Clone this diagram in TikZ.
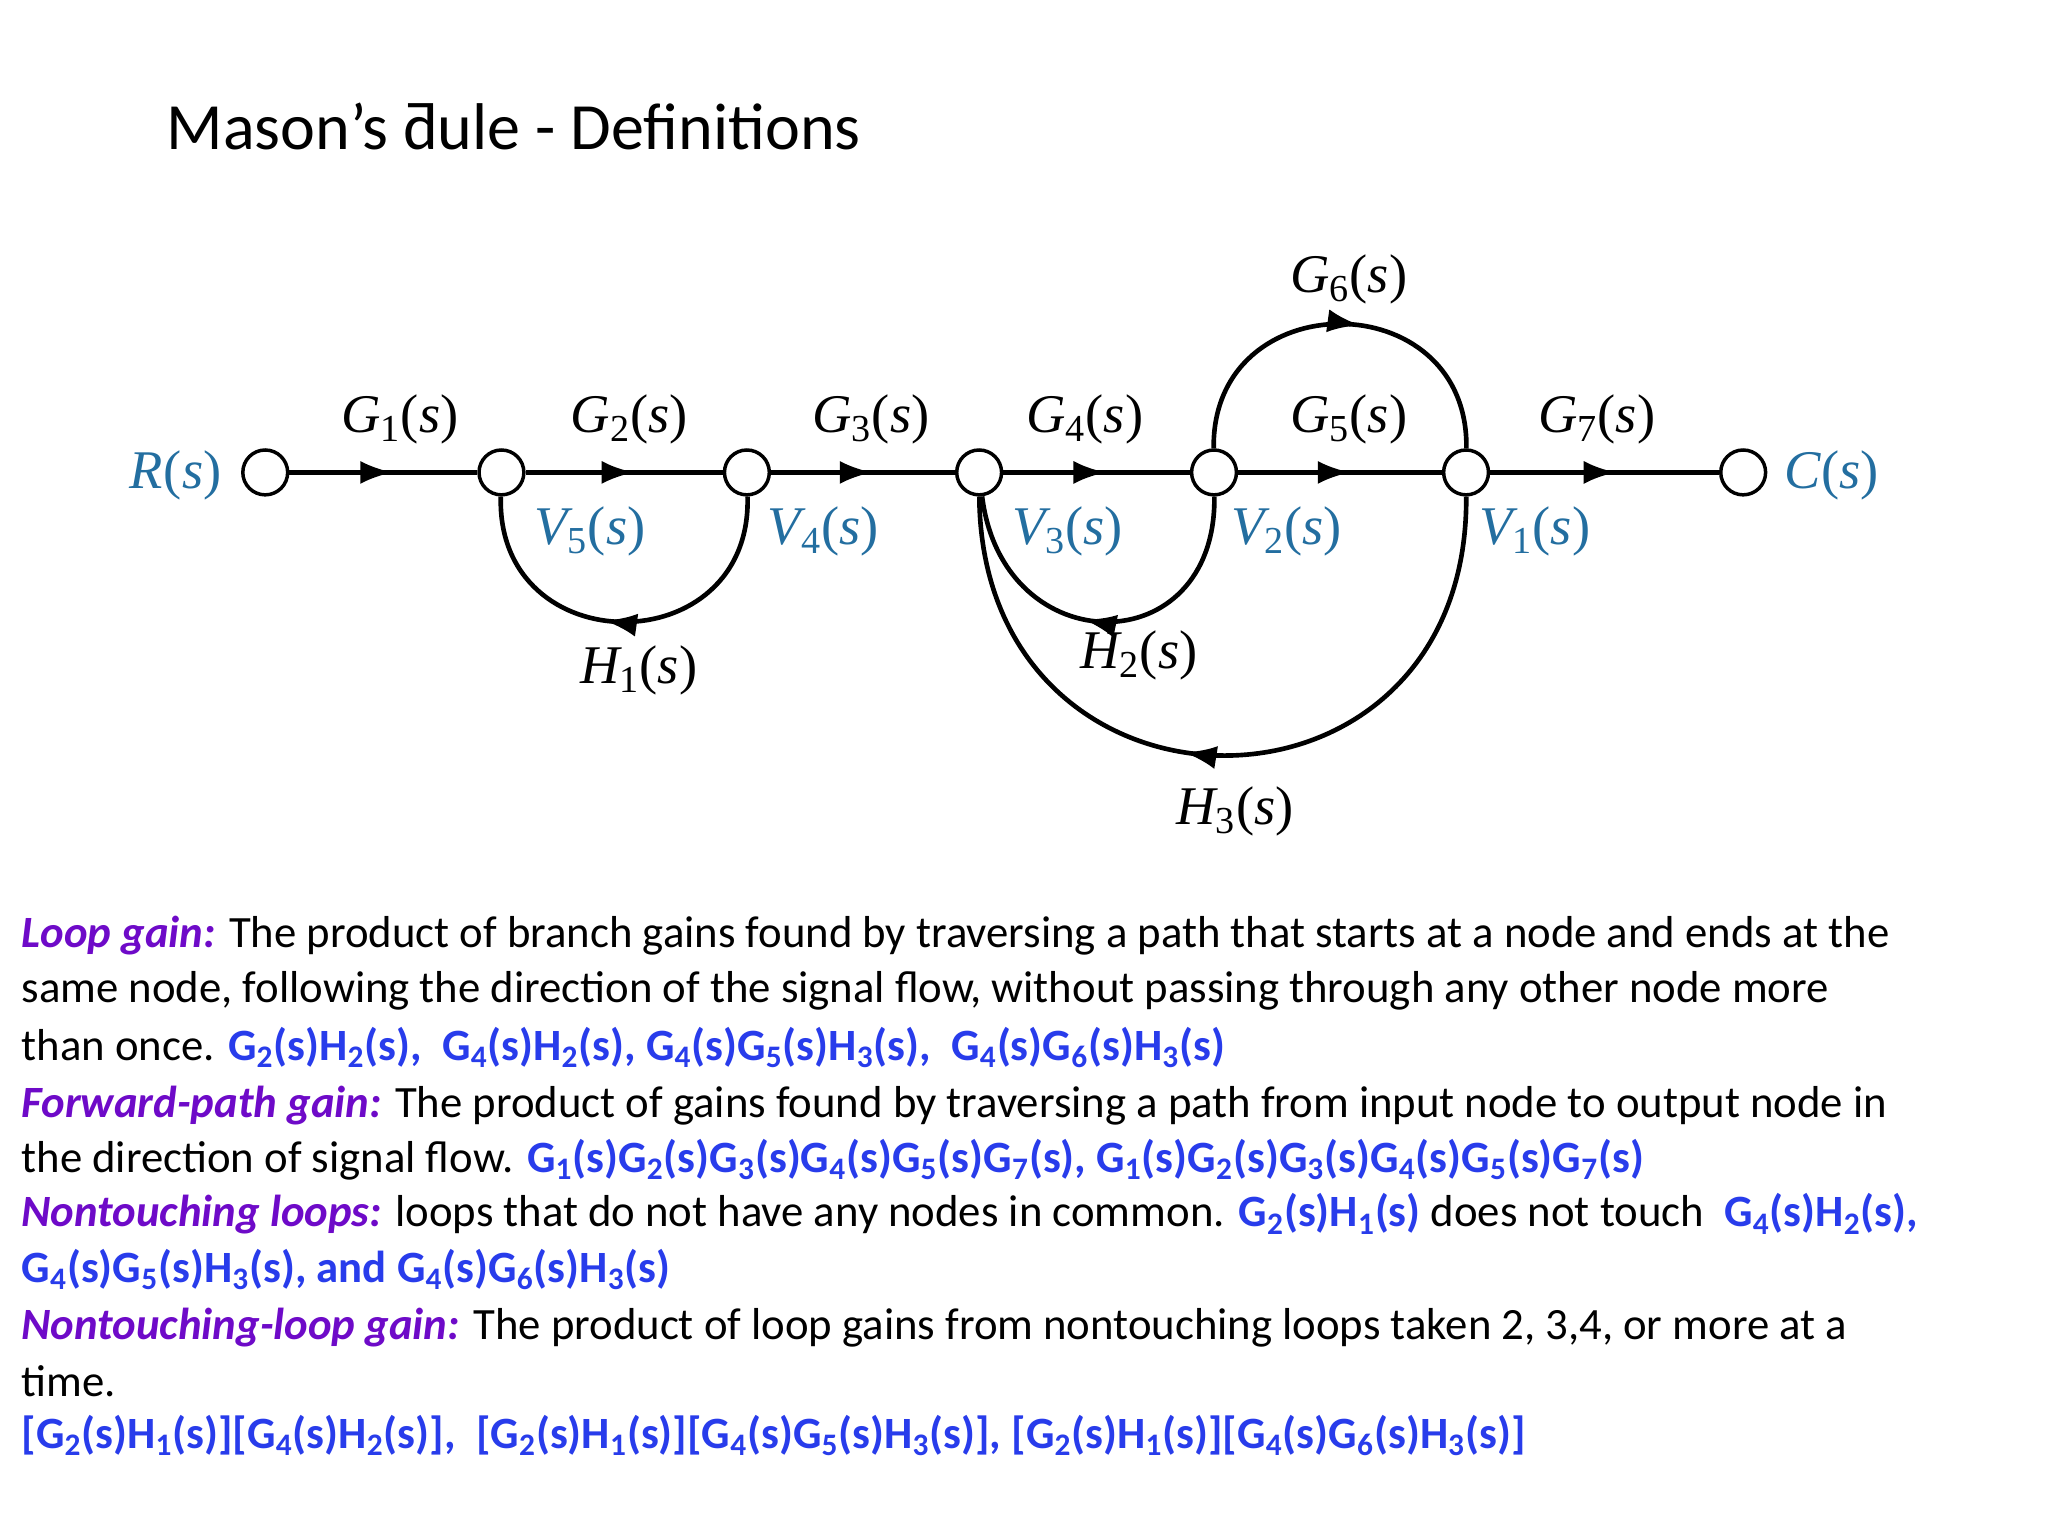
\documentclass[tikz,border=0pt]{standalone}
\usepackage{fontspec}
\setmainfont{Carlito}
\newfontfamily\mathlike{Liberation Serif}
\usetikzlibrary{arrows.meta,decorations.markings}
\definecolor{sigblue}{RGB}{35,110,160}
\definecolor{hpurple}{RGB}{110,10,200}
\definecolor{tblue}{RGB}{40,60,235}
\newcommand{\gs}[2]{#1\textsubscript{#2}(s)}
\newcommand{\lb}[2]{{\mathlike\itshape #1}\textsubscript{\mathlike #2}{\mathlike(\itshape s\upshape)}}
\newcommand{\hd}[1]{{\color{hpurple}\bfseries\itshape #1}}
\newcommand{\bb}[1]{{\color{tblue}\bfseries #1}}
\begin{document}
\begin{tikzpicture}[x=0.02cm,y=-0.02cm,
  sn/.style={circle,draw,line width=1.5pt,minimum size=0.68cm,inner sep=0pt,fill=white},
  br/.style={line width=2pt,postaction={decorate},decoration={markings,mark=at position 0.55 with {\arrow{Latex[length=14pt,width=10pt]}}}},
  gl/.style={font=\fontsize{23.5}{28}\selectfont},
  vl/.style={font=\fontsize{23.5}{28}\selectfont,text=sigblue},
  tl/.style={anchor=west,font=\fontsize{19.3}{24}\selectfont,inner sep=0pt}]
\useasboundingbox (0,0) rectangle (1552,1164);
\node[anchor=west,font=\fontsize{28.5}{34}\selectfont] (title) at (120,96) {Mason’s ƌule - Definitions};
% nodes
\node[sn] (R) at (201,358) {};
\node[sn] (n5) at (380,358) {};
\node[sn] (n4) at (566,358) {};
\node[sn] (n3) at (742,358) {};
\node[sn] (n2) at (920,358) {};
\node[sn] (n1) at (1111,358) {};
\node[sn] (C) at (1321,358) {};
\draw[br] (R) -- (n5);
\draw[br] (n5) -- (n4);
\draw[br] (n4) -- (n3);
\draw[br] (n3) -- (n2);
\draw[br] (n2) -- (n1);
\draw[br] (n1) -- (C);
\draw[br] (n4) .. controls (570,503) and (376,503) .. (n5);
\draw[br] (n2) .. controls (922,503) and (760,503) .. (n3);
\draw[br] (n1) .. controls (1113,638) and (744,638) .. (n3);
\draw[br] (n2) .. controls (918,214) and (1113,214) .. (n1);
% labels
\node[vl] (lR) at (133,360) {\lb{R}{}};
\node[vl] (lC) at (1388,360) {\lb{C}{}};
\node[gl] (g1) at (303,318) {\lb{G}{1}};
\node[gl] (g2) at (477,318) {\lb{G}{2}};
\node[gl] (g3) at (660,318) {\lb{G}{3}};
\node[gl] (g4) at (822,318) {\lb{G}{4}};
\node[gl] (g5) at (1022,318) {\lb{G}{5}};
\node[gl] (g6) at (1022,212) {\lb{G}{6}};
\node[gl] (g7) at (1210,318) {\lb{G}{7}};
\node[vl] (v5) at (447,403) {\lb{V}{5}};
\node[vl] (v4) at (624,403) {\lb{V}{4}};
\node[vl] (v3) at (809,403) {\lb{V}{3}};
\node[vl] (v2) at (975,403) {\lb{V}{2}};
\node[vl] (v1) at (1163,403) {\lb{V}{1}};
\node[gl] (h1) at (484,508) {\lb{H}{1}};
\node[gl] (h2) at (863,497) {\lb{H}{2}};
\node[gl] (h3) at (936,615) {\lb{H}{3}};
% text
\node[tl] (t1) at (16,709) {\hd{Loop gain:} The product of branch gains found by traversing a path that starts at a node and ends at the};
\node[tl] (t2) at (16,751) {same node, following the direction of the signal flow, without passing through any other node more};
\node[tl] (t3) at (16,794) {than once. \bb{\gs{G}{2}\gs{H}{2}, \ \gs{G}{4}\gs{H}{2}, \gs{G}{4}\gs{G}{5}\gs{H}{3}, \ \gs{G}{4}\gs{G}{6}\gs{H}{3}}};
\node[tl] (t4) at (16,838) {\hd{Forward-path gain:} The product of gains found by traversing a path from input node to output node in};
\node[tl] (t5) at (16,879) {the direction of signal flow. \bb{\gs{G}{1}\gs{G}{2}\gs{G}{3}\gs{G}{4}\gs{G}{5}\gs{G}{7}, \gs{G}{1}\gs{G}{2}\gs{G}{3}\gs{G}{4}\gs{G}{5}\gs{G}{7}}};
\node[tl] (t6) at (16,920) {\hd{Nontouching loops:} loops that do not have any nodes in common. \bb{\gs{G}{2}\gs{H}{1}} does not touch \ \bb{\gs{G}{4}\gs{H}{2},}};
\node[tl] (t7) at (16,962) {\bb{\gs{G}{4}\gs{G}{5}\gs{H}{3}, and \gs{G}{4}\gs{G}{6}\gs{H}{3}}};
\node[tl] (t8) at (16,1006) {\hd{Nontouching-loop gain:} The product of loop gains from nontouching loops taken 2, 3,4, or more at a};
\node[tl] (t9) at (16,1047) {time.};
\node[tl] (t10) at (16,1088) {\bb{[\gs{G}{2}\gs{H}{1}][\gs{G}{4}\gs{H}{2}], \ [\gs{G}{2}\gs{H}{1}][\gs{G}{4}\gs{G}{5}\gs{H}{3}], [\gs{G}{2}\gs{H}{1}][\gs{G}{4}\gs{G}{6}\gs{H}{3}]}};
\end{tikzpicture}
\end{document}
